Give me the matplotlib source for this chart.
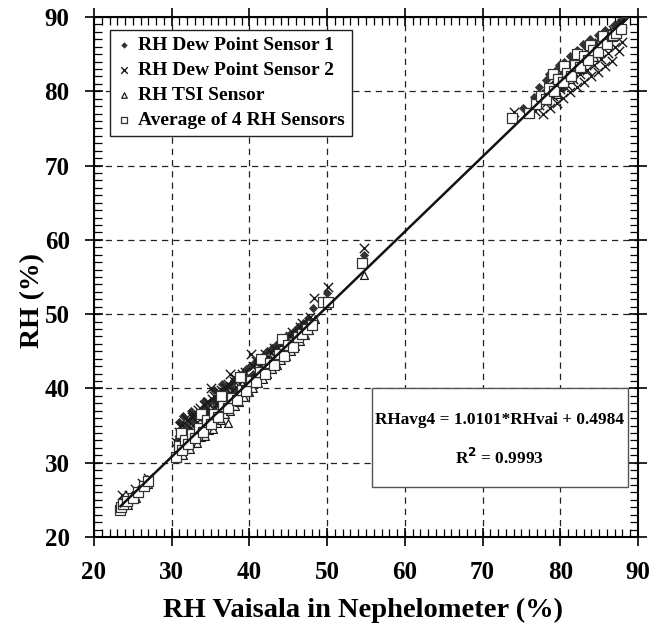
import matplotlib
matplotlib.use("Agg")
import matplotlib.pyplot as plt
from matplotlib.ticker import MultipleLocator
from matplotlib.patches import Rectangle

plt.rcParams['font.family'] = ['Liberation Serif', 'DejaVu Serif']
plt.rcParams['font.weight'] = 'bold'

# RH Dew Point Sensor 1 (filled diamonds)
dew1_x = [23.6, 24.6, 25.5, 26.8,
          30.8, 31.0, 31.2, 31.5, 31.9, 32.0, 32.3, 32.5, 32.8, 33.1, 33.3, 33.6, 34.0, 34.2, 34.4,
          34.9, 35.0, 35.3, 35.5, 35.8, 36.0, 36.2, 36.5, 36.7, 37.1, 37.6, 38.0, 38.5, 39.0, 39.6,
          40.1, 40.7, 41.2, 41.8, 42.3, 42.9, 43.4, 44.0, 44.6, 45.2, 45.8, 46.3, 46.9, 47.6, 48.2,
          31.4, 32.2, 33.0, 33.9, 34.7, 35.6, 36.4, 37.3, 38.2, 39.2, 40.4, 41.5, 42.6, 43.7, 44.9,
          46.0, 47.2,
          50.0, 54.7,
          75.2, 76.6, 77.3, 77.8, 78.2, 78.5, 78.6, 79.0, 79.4, 79.8, 80.1, 80.3, 80.5, 80.9, 81.3,
          81.7, 81.8, 82.1, 82.5, 82.9, 83.2, 83.4, 83.8, 84.3, 84.8, 85.3, 85.8, 86.4, 86.9, 87.5,
          88.2]
dew1_y = [25.0, 25.3, 26.2, 27.8,
          33.2, 35.5, 34.0, 36.3, 35.0, 34.2, 35.6, 37.0, 36.0, 36.5, 34.8, 36.8, 37.4, 38.3, 37.6,
          38.2, 36.4, 38.4, 39.8, 38.9, 38.0, 39.4, 40.6, 39.7, 40.3, 40.6, 41.2, 41.5, 42.0, 42.6,
          43.0, 43.5, 44.0, 44.4, 45.0, 45.4, 45.9, 46.4, 46.9, 47.3, 47.9, 48.3, 48.8, 49.5, 50.8,
          33.6, 34.6, 35.2, 36.0, 36.9, 37.5, 38.5, 39.1, 39.9, 40.8, 41.9, 43.1, 44.0, 45.1, 46.2,
          47.4, 48.6,
          52.8, 58.0,
          77.7, 79.2, 80.6, 79.8, 81.5, 79.6, 82.3, 81.0, 82.8, 83.5, 82.2, 80.5, 84.0, 83.3, 84.8,
          84.2, 82.6, 85.6, 84.9, 86.3, 84.3, 85.8, 87.0, 86.4, 87.6, 87.2, 88.3, 88.0, 88.9, 89.3,
          89.9]

# RH Dew Point Sensor 2 (x marks)
dew2_x = [23.6, 24.5, 25.3, 26.2, 27.0,
          30.6, 30.9, 31.3, 31.6, 32.0, 32.4, 32.8, 33.2, 33.6, 34.0, 34.5, 34.9, 35.0, 35.4, 35.9,
          36.3, 36.8, 37.3, 37.5, 37.8, 38.3, 38.8, 39.4, 39.9, 40.2, 40.5, 41.0, 41.6, 42.2, 42.8,
          43.4, 44.0, 44.6, 45.2, 45.9, 46.5, 47.1, 47.8,
          31.1, 31.8, 32.6, 33.4, 34.2, 35.2, 36.1, 37.0, 38.0, 39.1, 40.8, 42.0, 43.1, 44.3, 45.5,
          46.8,
          48.3, 50.1, 54.7,
          74.0, 76.8, 77.3, 77.8, 78.3, 78.7, 79.1, 79.5, 79.6, 80.0, 80.4, 80.9, 81.0, 81.3, 81.7,
          82.2, 82.6, 83.0, 83.2, 83.5, 83.9, 84.4, 84.8, 85.0, 85.3, 85.7, 86.2, 86.6, 86.8, 87.1,
          87.6, 87.9, 88.0]
dew2_y = [25.7, 25.6, 26.4, 27.3, 28.0,
          32.8, 34.2, 35.1, 33.9, 35.8, 34.7, 36.6, 35.5, 37.3, 36.4, 38.2, 37.0, 40.0, 39.0, 38.1,
          39.8, 38.9, 40.6, 42.0, 39.7, 41.3, 40.6, 42.2, 41.4, 44.6, 43.0, 42.3, 43.8, 43.2, 44.8,
          44.2, 45.9, 45.4, 47.1, 46.6, 48.3, 48.0, 49.6,
          34.9, 36.0, 36.2, 37.1, 37.8, 38.6, 39.5, 40.1, 41.0, 41.9, 43.7, 44.6, 45.5, 46.6, 47.6,
          48.8,
          52.2, 53.6, 58.9,
          77.2, 77.3, 78.2, 77.0, 78.6, 77.8, 79.4, 81.8, 78.4, 80.3, 79.1, 80.9, 83.0, 79.9, 81.6,
          80.6, 82.3, 81.3, 84.6, 82.9, 82.0, 83.6, 82.6, 86.5, 84.3, 83.4, 85.2, 84.1, 88.3, 86.0,
          85.4, 89.2, 86.7]

# RH TSI Sensor (open triangles)
tsi_x = [23.5, 24.4, 25.4, 27.0,
         30.7, 31.1, 31.5, 31.9, 32.4, 32.8, 33.0, 33.3, 33.8, 34.3, 34.8, 35.3, 35.8, 36.0, 36.3,
         36.9, 37.2, 37.5, 38.1, 38.7, 39.0, 39.3, 39.9, 40.5, 41.1, 41.7, 42.0, 42.3, 42.9, 43.5,
         44.1, 44.7, 45.3, 45.9, 46.5, 47.1, 47.7, 48.5, 50.0, 54.7,
         76.7, 77.6, 78.4, 79.2, 79.6, 80.0, 80.8, 81.2, 81.6, 82.4, 82.8, 83.2, 84.0, 84.4, 84.8,
         85.6, 86.4, 87.2]
tsi_y = [23.8, 24.3, 25.2, 27.1,
         30.6, 31.2, 31.0, 31.8, 31.9, 32.6, 34.4, 32.7, 33.5, 33.6, 34.4, 34.6, 35.4, 37.4, 35.7,
         36.5, 35.3, 36.9, 37.7, 38.2, 40.6, 38.9, 39.5, 40.0, 40.7, 41.3, 43.4, 41.9, 42.6, 43.2,
         43.8, 44.4, 45.1, 45.7, 46.4, 47.2, 47.9, 49.3, 51.2, 55.3,
         78.5, 79.4, 80.2, 81.1, 79.7, 81.5, 82.7, 81.6, 83.2, 84.1, 83.0, 85.0, 85.8, 84.6, 86.5,
         87.3, 87.8, 88.6]

# Average of 4 RH Sensors (open squares)
avg_x = [23.4, 23.5, 23.7, 24.3, 25.0, 25.6, 26.4, 27.0,
         30.5, 30.9, 31.2, 31.3, 31.7, 32.1, 32.6, 33.0, 33.5, 33.8, 34.0, 34.5, 35.0, 35.5, 36.0,
         36.3, 36.6, 37.2, 37.8, 38.4, 38.8, 39.0, 39.6, 40.2, 40.8, 41.4, 41.5, 42.0, 42.6, 43.2,
         43.8, 44.2, 44.4, 45.0, 45.6, 46.2, 46.8, 47.4, 48.0, 49.5, 50.1, 54.5,
         73.8, 76.0, 76.9, 77.5, 78.1, 78.6, 79.0, 79.2, 79.7, 80.3, 80.5, 80.8, 81.4, 81.9, 82.2,
         82.5, 83.0, 83.6, 83.8, 84.2, 84.8, 85.4, 85.5, 86.0, 86.6, 86.8, 87.2, 87.8]
avg_y = [23.6, 24.1, 24.5, 24.8, 25.3, 26.0, 26.8, 27.5,
         30.8, 32.2, 34.0, 31.7, 33.0, 32.5, 33.8, 33.3, 34.7, 36.5, 34.2, 35.7, 35.2, 36.6, 36.2,
         39.0, 37.6, 37.3, 38.7, 38.4, 41.5, 39.8, 39.6, 41.0, 40.8, 42.2, 44.0, 42.0, 43.4, 43.2,
         44.6, 46.6, 44.4, 45.8, 45.6, 46.9, 47.3, 48.0, 48.6, 51.6, 51.6, 56.9,
         76.4, 77.1, 78.3, 79.3, 79.0, 80.4, 82.3, 80.1, 81.6, 81.2, 83.4, 82.5, 82.1, 83.6, 85.0,
         83.3, 84.7, 84.2, 86.2, 85.6, 85.3, 86.6, 87.5, 86.3, 87.4, 87.6, 87.9, 88.4]

slope = 1.0101
intercept = 0.4984
fit_x = [23.4, 88.2]

fig = plt.figure(figsize=(6.51, 6.34), dpi=100)
ax = fig.add_axes([94 / 651, 1 - 537 / 634, 544 / 651, 520 / 634])

ax.scatter(dew1_x, dew1_y, marker='D', s=22, color='#333333', linewidths=0, zorder=3,
           label='RH Dew Point Sensor 1')
ax.scatter(dew2_x, dew2_y, marker='x', s=45, color='#1a1a1a', linewidths=1.0, zorder=3,
           label='RH Dew Point Sensor 2')
ax.scatter(tsi_x, tsi_y, marker='^', s=32, facecolors='white', edgecolors='#1a1a1a',
           linewidths=0.9, zorder=4, label='RH TSI Sensor')
ax.scatter(avg_x, avg_y, marker='s', s=50, facecolors='white', edgecolors='#333333',
           linewidths=0.9, zorder=5, label='Average of 4 RH Sensors')
ax.plot(fit_x, [slope * v + intercept for v in fit_x], color='#111111', lw=1.8, zorder=6)

ax.set_xlim(20, 90)
ax.set_ylim(20, 90)
ax.xaxis.set_major_locator(MultipleLocator(10))
ax.yaxis.set_major_locator(MultipleLocator(10))
ax.xaxis.set_minor_locator(MultipleLocator(1))
ax.yaxis.set_minor_locator(MultipleLocator(1))
ax.tick_params(which='major', direction='inout', length=13, width=1.2,
               top=True, right=True, labelsize=18, pad=11)
ax.tick_params(which='minor', direction='in', length=6, width=0.9, top=True, right=True)
for s in ax.spines.values():
    s.set_linewidth(1.5)
ax.grid(True, which='major', linestyle=(0, (5, 4)), color='#222222', lw=0.9)

ax.set_xlabel('RH Vaisala in Nephelometer (%)', fontsize=20.5, fontweight='bold')
ax.set_ylabel('RH (%)', fontsize=20, fontweight='bold')
ax.xaxis.set_label_coords(0.494, -0.117)
ax.yaxis.set_label_coords(-0.09, 0.454)

leg = ax.legend(loc='upper left', fontsize=14, frameon=True, fancybox=False, framealpha=1,
                edgecolor='#222222', markerscale=0.7, handletextpad=0.3, handlelength=0.8,
                borderpad=0.35, labelspacing=0.38, borderaxespad=0,
                bbox_to_anchor=(0.029, 0.975))
leg.get_frame().set_linewidth(1.0)

# equation box
ax.add_patch(Rectangle((0.511, 0.096), 0.471, 0.19, transform=ax.transAxes, facecolor='white',
                       edgecolor='#555555', lw=1.0, zorder=8))
ax.text(0.746, 0.225, 'RHavg4 = 1.0101*RHvai + 0.4984', transform=ax.transAxes,
        ha='center', va='center', fontsize=12.4, fontweight='bold', zorder=9)
ax.text(0.746, 0.152, 'R$^{\\mathbf{2}}$ = 0.9993', transform=ax.transAxes,
        ha='center', va='center', fontsize=12.4, fontweight='bold', zorder=9)

fig.savefig('out.png', dpi=100)
